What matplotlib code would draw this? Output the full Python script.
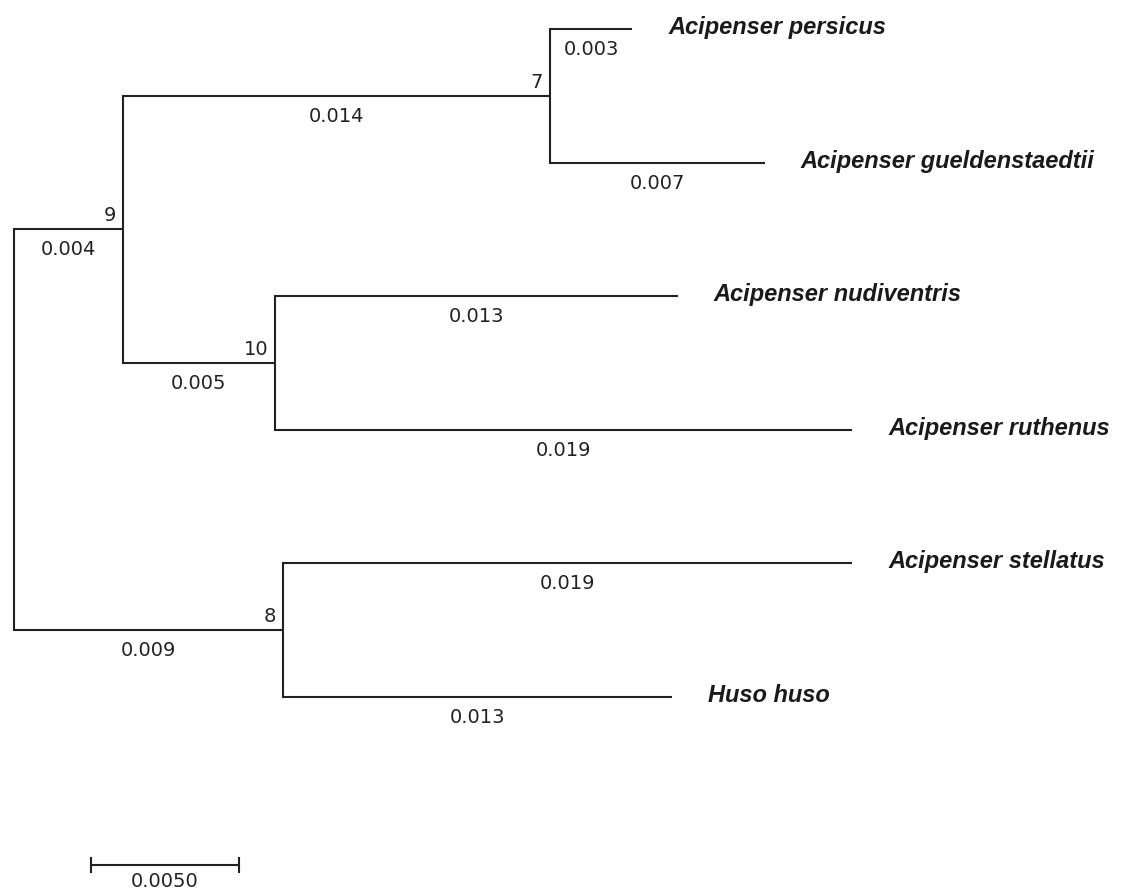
import matplotlib
matplotlib.use('Agg')
import matplotlib.pyplot as plt
from matplotlib.transforms import offset_copy

# tree: each node, its parent and its branch length
nodes = ['root', '9', '7', 'Acipenser persicus', 'Acipenser gueldenstaedtii',
         '10', 'Acipenser nudiventris', 'Acipenser ruthenus',
         '8', 'Acipenser stellatus', 'Huso huso']
parents = [None, 'root', '9', '7', '7', '9', '10', '10', 'root', '8', '8']
branch_lengths = [0.0, 0.00368, 0.01443, 0.00277, 0.00726,
                  0.00514, 0.01361, 0.01949, 0.00909, 0.01922, 0.01314]
branch_labels = ['', '0.004', '0.014', '0.003', '0.007',
                 '0.005', '0.013', '0.019', '0.009', '0.019', '0.013']
scale_length = 0.005
scale_label = '0.0050'

children = {n: [] for n in nodes}
for n, p in zip(nodes, parents):
    if p is not None:
        children[p].append(n)
blen = dict(zip(nodes, branch_lengths))
blab = dict(zip(nodes, branch_labels))

# x = distance from root, y = tip order (internal nodes in middle of children)
xpos = {}
ypos = {}
leaf_count = [0]

def layout(n, x):
    xpos[n] = x + blen[n]
    if not children[n]:
        ypos[n] = leaf_count[0]
        leaf_count[0] += 1
    else:
        for c in children[n]:
            layout(c, xpos[n])
        ys = [ypos[c] for c in children[n]]
        ypos[n] = (min(ys) + max(ys)) / 2

layout('root', 0.0)

fig = plt.figure(figsize=(11.22, 8.93), dpi=100)
ax = fig.add_axes([0, 0, 1, 1])
ax.set_xlim(-0.00047, 0.03743)
ax.set_ylim(6.467, -0.217)
ax.axis('off')

lc = '#222222'
lw = 1.5

def off(dx, dy):
    return offset_copy(ax.transData, fig=fig, x=dx, y=dy, units='dots')

for n, p in zip(nodes, parents):
    if p is None:
        continue
    # horizontal branch
    ax.plot([xpos[p], xpos[n]], [ypos[n], ypos[n]], color=lc, lw=lw,
            solid_capstyle='butt')
    # branch length label
    ax.text((xpos[p] + xpos[n]) / 2, ypos[n], blab[n], transform=off(0, -26),
            ha='center', va='baseline', fontsize=14, color=lc,
            family='DejaVu Sans')
    if children[n]:
        ys = [ypos[c] for c in children[n]]
        ax.plot([xpos[n], xpos[n]], [min(ys), max(ys)], color=lc, lw=lw,
                solid_capstyle='projecting')
        ax.text(xpos[n], ypos[n], n, transform=off(-7, 8), ha='right',
                va='baseline', fontsize=14, color=lc, family='DejaVu Sans')
    else:
        ax.text(xpos[n], ypos[n], n, transform=off(36, -5), ha='left',
                va='baseline', fontsize=17, fontweight='bold',
                fontstyle='italic', color='#1a1a1a', family='Liberation Sans')

# root vertical line
ys = [ypos[c] for c in children['root']]
ax.plot([0, 0], [min(ys), max(ys)], color=lc, lw=lw,
        solid_capstyle='projecting')

# scale bar
sb_x0 = 0.0026
sb_y = 6.257
ax.plot([sb_x0, sb_x0 + scale_length], [sb_y, sb_y], color=lc, lw=lw)
for xe in (sb_x0, sb_x0 + scale_length):
    ax.plot([xe, xe], [sb_y - 0.055, sb_y + 0.055], color=lc, lw=lw)
ax.text(sb_x0 + scale_length / 2, sb_y, scale_label, transform=off(0, -22),
        ha='center', va='baseline', fontsize=14, color=lc, family='DejaVu Sans')

fig.savefig('out.png', dpi=100, facecolor='white')
